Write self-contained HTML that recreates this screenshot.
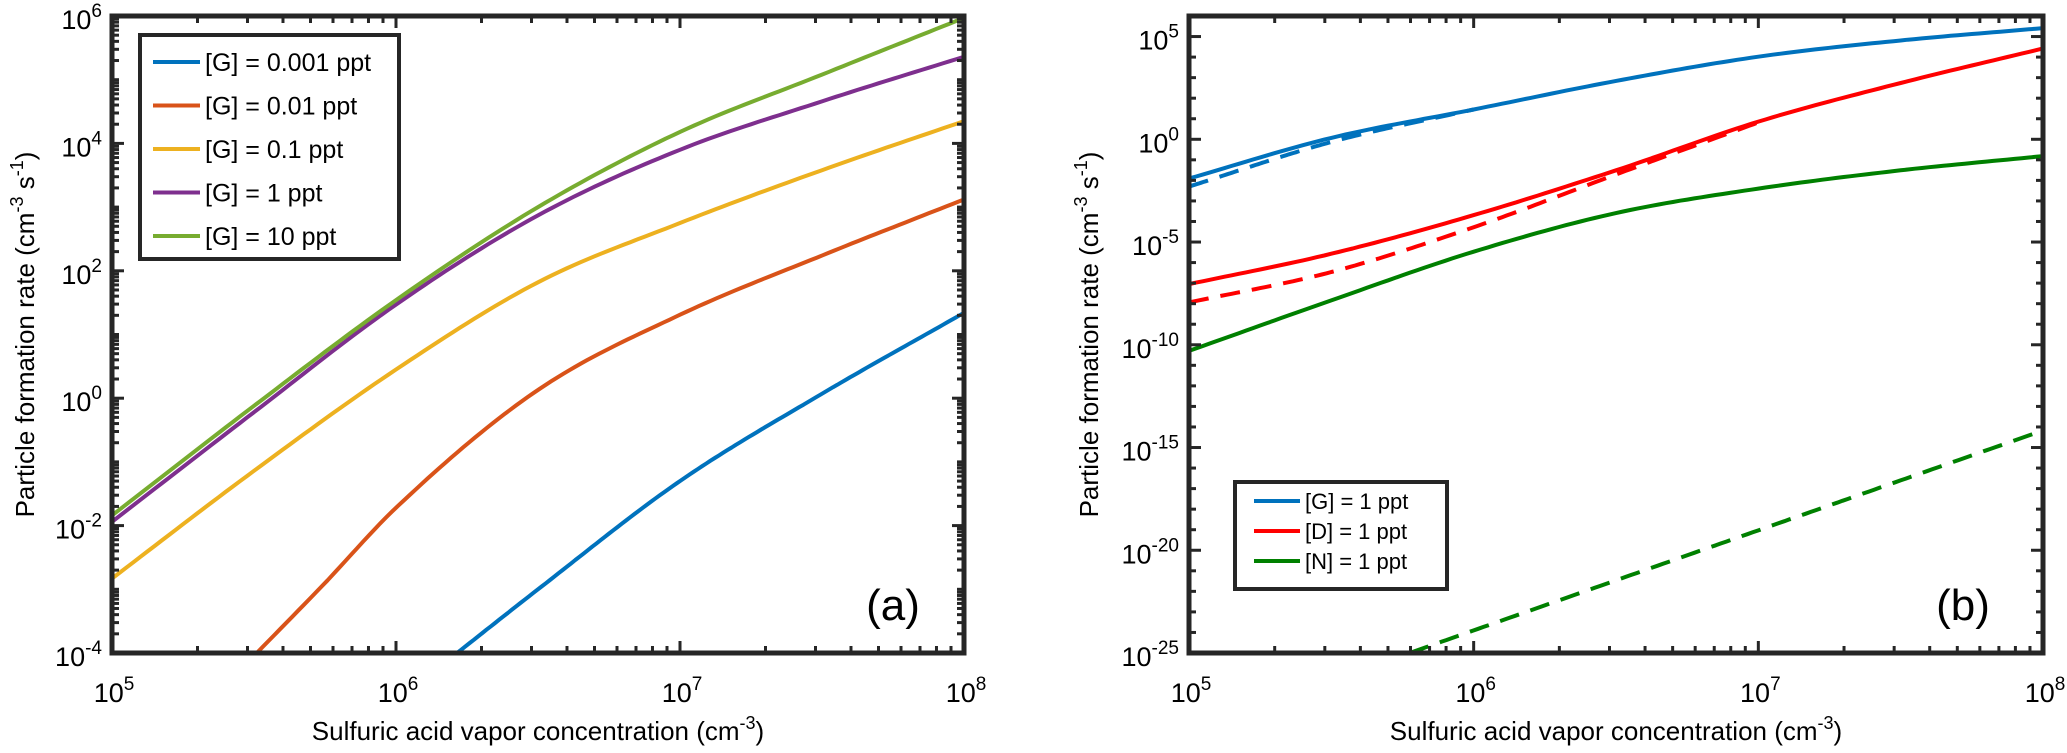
<!DOCTYPE html>
<html><head><meta charset="utf-8"><title>Particle formation rate</title>
<style>
html,body{margin:0;padding:0;background:#fff;}
svg{display:block;font-family:"Liberation Sans",Arial,sans-serif;}
</style></head>
<body>
<svg id="fig" width="2067" height="753" viewBox="0 0 2067 753" xmlns="http://www.w3.org/2000/svg"></svg>
<script>
// ---------- Panel (a) data (log10 values) ----------
const aBlueX = [6.215, 6.5, 7.0, 7.5, 8.0];
const aBlueY = [-4.0, -3.0, -1.3, 0.07, 1.34];
const aOrangeX = [5.51, 5.75, 6.0, 6.5, 7.0, 7.5, 8.0];
const aOrangeY = [-4.0, -2.9, -1.72, 0.13, 1.31, 2.24, 3.12];
const aYellowX = [5.0, 5.5, 6.0, 6.5, 7.0, 7.5, 8.0];
const aYellowY = [-2.83, -1.14, 0.45, 1.82, 2.75, 3.58, 4.35];
const aPurpleX = [5.0, 5.5, 6.0, 6.5, 7.0, 7.5, 8.0];
const aPurpleY = [-1.94, -0.22, 1.47, 2.87, 3.9, 4.66, 5.36];
const aGreenX = [5.0, 5.5, 6.0, 6.5, 7.0, 7.5, 8.0];
const aGreenY = [-1.84, -0.12, 1.54, 3.0, 4.18, 5.08, 5.97];
const aLegend = ["[G] = 0.001 ppt", "[G] = 0.01 ppt", "[G] = 0.1 ppt", "[G] = 1 ppt", "[G] = 10 ppt"];
const aYTicks = [-4, -2, 0, 2, 4, 6];
const xTicks = [5, 6, 7, 8];

// ---------- Panel (b) data (log10 values) ----------
const bGSolidX = [5.0, 5.5, 6.0, 6.5, 7.0, 7.5, 8.0];
const bGSolidY = [-1.91, 0.07, 1.45, 2.84, 4.02, 4.81, 5.41];
const bGDashX = [5.0, 5.5, 6.0];
const bGDashY = [-2.3, -0.13, 1.45];
const bDSolidX = [5.0, 5.5, 6.0, 6.5, 7.0, 7.5, 8.0];
const bDSolidY = [-7.05, -5.57, -3.69, -1.51, 0.86, 2.74, 4.42];
const bDDashX = [5.0, 5.5, 6.0, 6.5, 7.0];
const bDDashY = [-7.94, -6.46, -4.28, -1.71, 0.82];
const bNSolidX = [5.0, 5.5, 6.0, 6.5, 7.0, 7.5, 8.0];
const bNSolidY = [-10.3, -7.84, -5.47, -3.59, -2.4, -1.51, -0.82];
const bNDashX = [5.775, 6.0, 7.0, 8.0];
const bNDashY = [-25.0, -23.9, -19.03, -14.17];
const bLegend = ["[G] = 1 ppt", "[D] = 1 ppt", "[N] = 1 ppt"];
const bYTicks = [-25, -20, -15, -10, -5, 0, 5];

const NS = "http://www.w3.org/2000/svg";
const svg = document.getElementById("fig");
function mk(tag, attrs, parent) {
  const e = document.createElementNS(NS, tag);
  for (const k in attrs) e.setAttribute(k, attrs[k]);
  (parent || svg).appendChild(e);
  return e;
}
const AX = "#262626";

// monotone cubic (Fritsch-Carlson) interpolation in data space
function interp(xs, ys, n) {
  const m = xs.length;
  const d = [], t = [];
  for (let i = 0; i < m - 1; i++) d.push((ys[i + 1] - ys[i]) / (xs[i + 1] - xs[i]));
  t[0] = d[0]; t[m - 1] = d[m - 2];
  for (let i = 1; i < m - 1; i++) t[i] = (d[i - 1] * d[i] <= 0) ? 0 : (d[i - 1] + d[i]) / 2;
  const out = [];
  for (let k = 0; k <= n; k++) {
    const x = xs[0] + (xs[m - 1] - xs[0]) * k / n;
    let i = 0;
    while (i < m - 2 && x > xs[i + 1]) i++;
    const h = xs[i + 1] - xs[i], s = (x - xs[i]) / h;
    const h00 = 2*s*s*s - 3*s*s + 1, h10 = s*s*s - 2*s*s + s, h01 = -2*s*s*s + 3*s*s, h11 = s*s*s - s*s;
    out.push([x, h00*ys[i] + h10*h*t[i] + h01*ys[i+1] + h11*h*t[i+1]]);
  }
  return out;
}

function panel(cfg) {
  const g = mk("g", {});
  
  
  const L = cfg.left, R = cfg.right, T = 16, B = 653;
  const sx = v => L + (v - 5) / 3 * (R - L);
  const sy = v => B - (v - cfg.ymin) / (cfg.ymax - cfg.ymin) * (B - T);
  const clipId = "clip-" + cfg.name;
  const cp = mk("clipPath", {id: clipId}, g);
  mk("rect", {x: L, y: T, width: R - L, height: B - T}, cp);
  const plot = mk("g", {"clip-path": "url(#" + clipId + ")"}, g);
  
  
  cfg.series.forEach(s => {
    const pts = interp(s.x, s.y, 120);
    let p = "";
    pts.forEach((q, i) => { p += (i ? "L" : "M") + sx(q[0]).toFixed(1) + " " + sy(q[1]).toFixed(1); });
    const path = mk("path", {d: p, fill: "none", stroke: s.color, "stroke-width": 4, "stroke-linejoin": "round"}, plot);
    if (s.dash) path.setAttribute("stroke-dasharray", "20 12");
    
    
  });
  // ticks
  const tk = mk("g", {stroke: AX, "stroke-width": 3}, g);
  
  
  for (let dcd = 5; dcd <= 8; dcd++) {
    for (let m = 1; m <= 9; m++) {
      const v = dcd + Math.log10(m);
      if (v > 8.0001) break;
      const len = m === 1 ? 12 : 7;
      const x = sx(v);
      mk("line", {x1: x, y1: B, x2: x, y2: B - len}, tk);
      mk("line", {x1: x, y1: T, x2: x, y2: T + len}, tk);
    }
  }
  for (let dcd = cfg.ymin; dcd <= cfg.ymax; dcd++) {
    const majors = cfg.yticks.indexOf(dcd) >= 0;
    const ms = cfg.yminorAll ? [1,2,3,4,5,6,7,8,9] : [1];
    ms.forEach(m => {
      const v = dcd + Math.log10(m);
      if (v > cfg.ymax + 0.0001) return;
      const len = (m === 1 && majors) ? 12 : 7;
      const y = sy(v);
      mk("line", {x1: L, y1: y, x2: L + len, y2: y}, tk);
      mk("line", {x1: R, y1: y, x2: R - len, y2: y}, tk);
    });
  }
  // frame
  const fr = mk("rect", {x: L, y: T, width: R - L, height: B - T, fill: "none", stroke: AX, "stroke-width": 5}, g);
  
  
  // tick labels
  xTicks.forEach(v => {
    const t = mk("text", {x: sx(v) + 2, y: 702, "text-anchor": "middle", "font-size": 27, fill: "#000"}, g);
    
    
    t.appendChild(document.createTextNode("10"));
    const s = mk("tspan", {dy: -12, "font-size": 19}, t);
    s.textContent = String(v);
  });
  cfg.yticks.forEach(v => {
    const t = mk("text", {x: L - 10, y: sy(v) + 13, "text-anchor": "end", "font-size": 27, fill: "#000"}, g);
    
    
    t.appendChild(document.createTextNode("10"));
    const s = mk("tspan", {dy: -12, "font-size": 19}, t);
    s.textContent = String(v);
  });
  // axis titles
  const xt = mk("text", {x: (L + R) / 2, y: 740, "text-anchor": "middle", "font-size": 26, fill: "#000"}, g);
  
  
  xt.appendChild(document.createTextNode("Sulfuric acid vapor concentration (cm"));
  const xs = mk("tspan", {dy: -11, "font-size": 18}, xt); xs.textContent = "-3";
  const xc = mk("tspan", {dy: 11}, xt); xc.textContent = ")";
  const yt = mk("text", {x: 0, y: 0, transform: "translate(" + cfg.ylabelX + "," + ((T + B) / 2) + ") rotate(-90)", "text-anchor": "middle", "font-size": 26, fill: "#000"}, g);
  
  
  yt.appendChild(document.createTextNode("Particle formation rate (cm"));
  const y1 = mk("tspan", {dy: -11, "font-size": 18}, yt); y1.textContent = "-3";
  const y2 = mk("tspan", {dy: 11}, yt); y2.textContent = " s";
  const y3 = mk("tspan", {dy: -11, "font-size": 18}, yt); y3.textContent = "-1";
  const y4 = mk("tspan", {dy: 11}, yt); y4.textContent = ")";
  // panel letter
  const pl = mk("text", {x: cfg.letterX, y: 620, "text-anchor": "middle", "font-size": 44, fill: "#000"}, g);
  
  
  pl.textContent = cfg.letter;
  // legend
  const lg = cfg.legend;
  const lgG = mk("g", {}, g);
  
  
  mk("rect", {x: lg.x, y: lg.y, width: lg.w, height: lg.h, fill: "#fff", stroke: AX, "stroke-width": 4}, lgG);
  lg.labels.forEach((lab, i) => {
    const cy = lg.y0 + i * lg.dy;
    const e = mk("g", {}, lgG);
    
    
    mk("line", {x1: lg.lx1, y1: cy, x2: lg.lx2, y2: cy, stroke: lg.colors[i], "stroke-width": 4}, e);
    const t = mk("text", {x: lg.lx2 + 5, y: cy + lg.fs * 0.36, "font-size": lg.fs, fill: "#000"}, e);
    t.textContent = lab;
  });
}

panel({
  name: "panel-a", left: 112, right: 964, ymin: -4, ymax: 6, yticks: aYTicks, yminorAll: true,
  ylabelX: 34, letter: "(a)", letterX: 893,
  series: [
    {name: "line-0-001-ppt", x: aBlueX, y: aBlueY, color: "#0072BD"},
    {name: "line-0-01-ppt", x: aOrangeX, y: aOrangeY, color: "#D95319"},
    {name: "line-0-1-ppt", x: aYellowX, y: aYellowY, color: "#EDB120"},
    {name: "line-1-ppt", x: aPurpleX, y: aPurpleY, color: "#7E2F8E"},
    {name: "line-10-ppt", x: aGreenX, y: aGreenY, color: "#77AC30"}
  ],
  legend: {x: 140, y: 35, w: 259, h: 224, y0: 62, dy: 43.5, lx1: 153, lx2: 200, fs: 25,
    labels: aLegend, colors: ["#0072BD", "#D95319", "#EDB120", "#7E2F8E", "#77AC30"]}
});

panel({
  name: "panel-b", left: 1189, right: 2043, ymin: -25, ymax: 6, yticks: bYTicks, yminorAll: false,
  ylabelX: 1098, letter: "(b)", letterX: 1963,
  series: [
    {name: "g-solid", x: bGSolidX, y: bGSolidY, color: "#0072BD"},
    {name: "g-dashed", x: bGDashX, y: bGDashY, color: "#0072BD", dash: true},
    {name: "d-solid", x: bDSolidX, y: bDSolidY, color: "#FF0000"},
    {name: "d-dashed", x: bDDashX, y: bDDashY, color: "#FF0000", dash: true},
    {name: "n-solid", x: bNSolidX, y: bNSolidY, color: "#008000"},
    {name: "n-dashed", x: bNDashX, y: bNDashY, color: "#008000", dash: true}
  ],
  legend: {x: 1235, y: 482, w: 212, h: 107, y0: 501, dy: 30, lx1: 1254, lx2: 1300, fs: 22,
    labels: bLegend, colors: ["#0072BD", "#FF0000", "#008000"]}
});
</script>
</body></html>
